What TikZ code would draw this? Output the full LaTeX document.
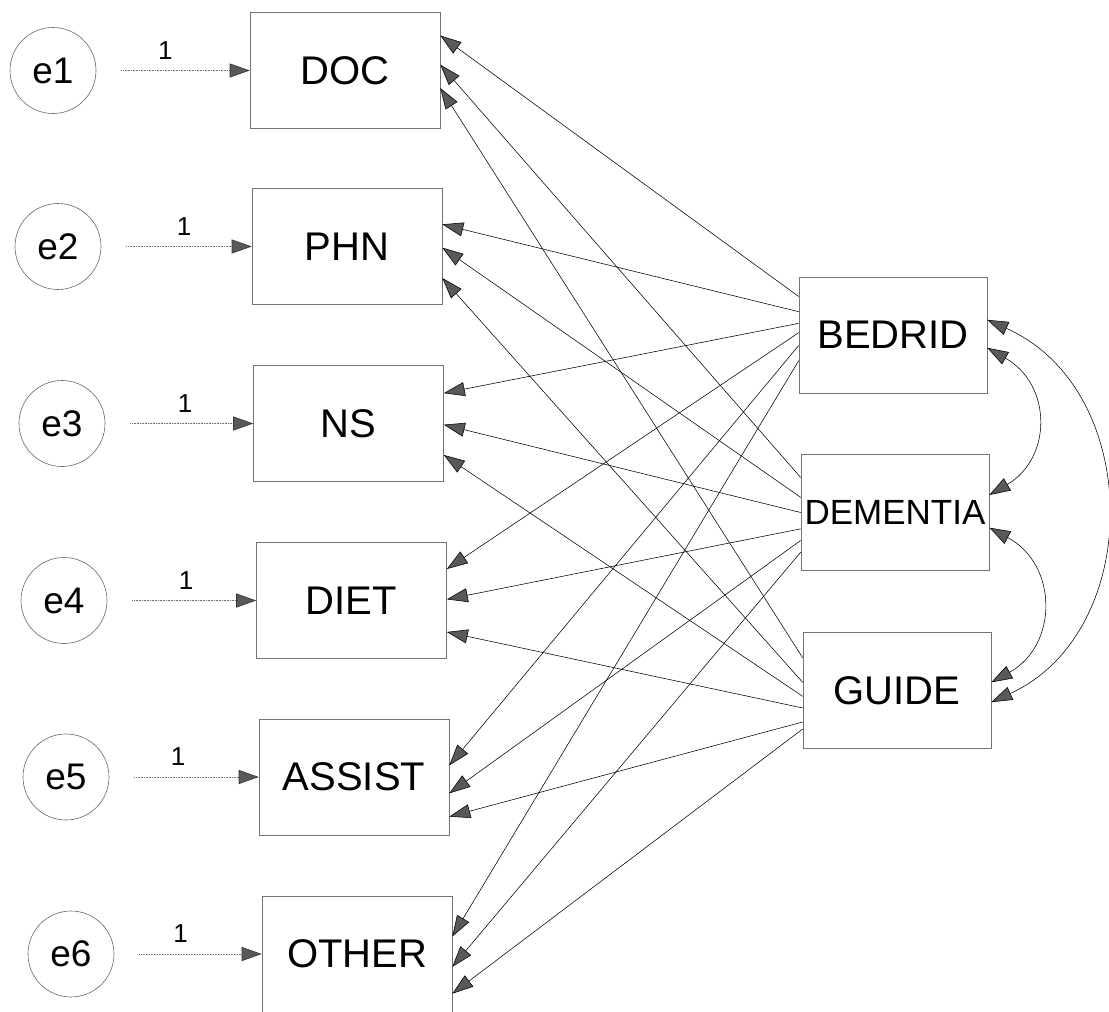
\documentclass[tikz,border=0pt]{standalone}
\usepackage{fontspec}
\setmainfont{Liberation Sans}
\usetikzlibrary{calc,arrows.meta}

\begin{document}
\begin{tikzpicture}[x=1pt,y=-1pt,
		obsbox/.style={draw=black!55,line width=0.6pt,minimum width=190pt,minimum height=116pt,inner sep=0pt,font=\fontsize{40}{44}\selectfont},
		errcirc/.style={draw=black!60,line width=0.6pt,circle,minimum size=86pt,inner sep=0pt,font=\fontsize{37}{40}\selectfont},
		errpath/.style={draw=black!55,densely dotted,line width=0.6pt,shorten <=25pt,-{Triangle[length=20pt,width=14pt,fill=black!65,color=black!80]}},
		regpath/.style={draw=black,line width=0.55pt,-{Triangle[length=21pt,width=14pt,fill=black!65]}},
		covpath/.style={draw=black,line width=0.55pt,{Triangle[length=21pt,width=14pt,fill=black!65]}-{Triangle[length=21pt,width=14pt,fill=black!65]}},
		onelabel/.style={above=10pt,inner sep=1pt,font=\fontsize{26}{28}\selectfont}]
		%%%%% START %%%%%
		\useasboundingbox (0,0) rectangle (1109,1012);
		
		% observed variables
		\node[obsbox] (DOC) at (345,70.5) {DOC};
		\node[obsbox] (PHN) at (347,246.5) {PHN};
		\node[obsbox] (NS) at (348.5,423.5) {NS};
		\node[obsbox] (DIET) at (351.5,600.5) {DIET};
		\node[obsbox] (ASSIST) at (354,777) {ASSIST};
		\node[obsbox] (OTHER) at (357,954) {OTHER};
		
		\node[obsbox,minimum width=188pt] (BEDRID) at (893,335) {BEDRID};
		\node[obsbox,minimum width=188pt,font=\fontsize{35}{38}\selectfont] (DEMENTIA) at (895,512.5) {DEMENTIA};
		\node[obsbox,minimum width=188pt] (GUIDE) at (897,690.5) {GUIDE};
		
		% error terms
		\node[errcirc] (e1) at (53,70.5) {e1};
		\node[errcirc] (e2) at (58,246.5) {e2};
		\node[errcirc] (e3) at (62,423.5) {e3};
		\node[errcirc] (e4) at (64,600.5) {e4};
		\node[errcirc] (e5) at (66,777) {e5};
		\node[errcirc] (e6) at (71,954) {e6};
		
		\draw[errpath] (e1) -- node[onelabel,pos=.45] {1} (DOC);
		\draw[errpath] (e2) -- node[onelabel,pos=.55] {1} (PHN);
		\draw[errpath] (e3) -- node[onelabel,pos=.54] {1} (NS);
		\draw[errpath] (e4) -- node[onelabel,pos=.53] {1} (DIET);
		\draw[errpath] (e5) -- node[onelabel,pos=.46] {1} (ASSIST);
		\draw[errpath] (e6) -- node[onelabel,pos=.45] {1} (OTHER);
		
		% BEDRID
		\draw[regpath] ($(BEDRID.north west)!.17!(BEDRID.south west)$) -- ($(DOC.north east)!.20!(DOC.south east)$);
		\draw[regpath] ($(BEDRID.north west)!.30!(BEDRID.south west)$) -- ($(PHN.north east)!.31!(PHN.south east)$);
		\draw[regpath] ($(BEDRID.north west)!.40!(BEDRID.south west)$) -- ($(NS.north east)!.24!(NS.south east)$);
		\draw[regpath] ($(BEDRID.north west)!.48!(BEDRID.south west)$) -- ($(DIET.north east)!.23!(DIET.south east)$);
		\draw[regpath] ($(BEDRID.north west)!.59!(BEDRID.south west)$) -- ($(ASSIST.north east)!.40!(ASSIST.south east)$);
		\draw[regpath] ($(BEDRID.north west)!.72!(BEDRID.south west)$) -- ($(OTHER.north east)!.35!(OTHER.south east)$);
		
		% DEMENTIA
		\draw[regpath] ($(DEMENTIA.north west)!.20!(DEMENTIA.south west)$) -- ($(DOC.north east)!.45!(DOC.south east)$);
		\draw[regpath] ($(DEMENTIA.north west)!.37!(DEMENTIA.south west)$) -- ($(PHN.north east)!.51!(PHN.south east)$);
		\draw[regpath] ($(DEMENTIA.north west)!.50!(DEMENTIA.south west)$) -- ($(NS.north east)!.51!(NS.south east)$);
		\draw[regpath] ($(DEMENTIA.north west)!.64!(DEMENTIA.south west)$) -- ($(DIET.north east)!.49!(DIET.south east)$);
		\draw[regpath] ($(DEMENTIA.north west)!.74!(DEMENTIA.south west)$) -- ($(ASSIST.north east)!.64!(ASSIST.south east)$);
		\draw[regpath] ($(DEMENTIA.north west)!.84!(DEMENTIA.south west)$) -- ($(OTHER.north east)!.61!(OTHER.south east)$);
		
		% GUIDE
		\draw[regpath] ($(GUIDE.north west)!.22!(GUIDE.south west)$) -- ($(DOC.north east)!.65!(DOC.south east)$);
		\draw[regpath] ($(GUIDE.north west)!.43!(GUIDE.south west)$) -- ($(PHN.north east)!.77!(PHN.south east)$);
		\draw[regpath] ($(GUIDE.north west)!.55!(GUIDE.south west)$) -- ($(NS.north east)!.77!(NS.south east)$);
		\draw[regpath] ($(GUIDE.north west)!.65!(GUIDE.south west)$) -- ($(DIET.north east)!.77!(DIET.south east)$);
		\draw[regpath] ($(GUIDE.north west)!.77!(GUIDE.south west)$) -- ($(ASSIST.north east)!.84!(ASSIST.south east)$);
		\draw[regpath] ($(GUIDE.north west)!.83!(GUIDE.south west)$) -- ($(OTHER.north east)!.84!(OTHER.south east)$);
		
		% covariances
		\draw[covpath] ($(BEDRID.north east)!.61!(BEDRID.south east)$) .. controls +(65,37) and +(63,-37) .. ($(DEMENTIA.north east)!.35!(DEMENTIA.south east)$);
		\draw[covpath] ($(DEMENTIA.north east)!.63!(DEMENTIA.south east)$) .. controls +(69,37) and +(67,-37) .. ($(GUIDE.north east)!.43!(GUIDE.south east)$);
		\draw[covpath] ($(BEDRID.north east)!.37!(BEDRID.south east)$) .. controls +(157,70) and +(153,-70) .. ($(GUIDE.north east)!.60!(GUIDE.south east)$);
		%%%%% END %%%%%
	\end{tikzpicture}
\end{document}
